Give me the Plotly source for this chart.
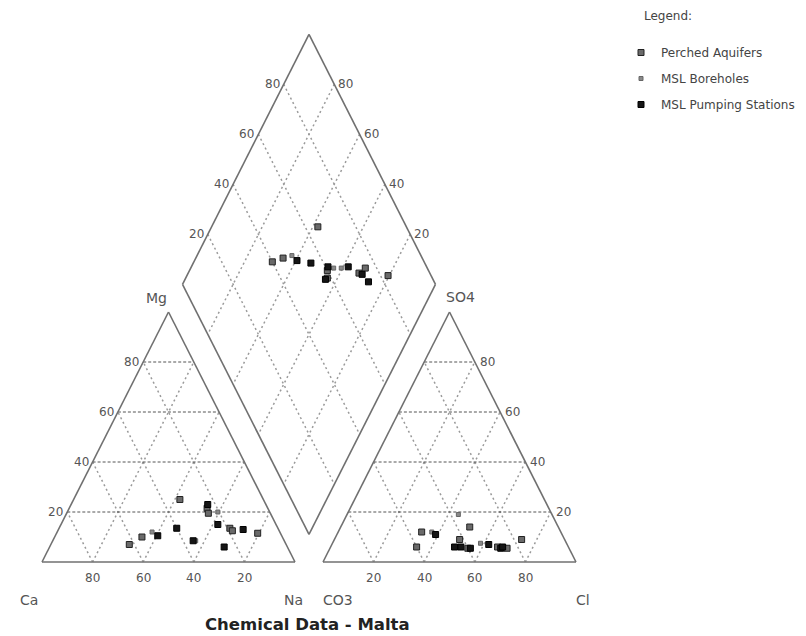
import numpy as np
import plotly.graph_objects as go

# ---------------- data (meq %) ----------------
# Perched Aquifers
pa_ca  = [62, 55.5, 33, 24, 24.5, 19, 18.5, 9]
pa_mg  = [7, 10, 25, 21.5, 19.5, 13.5, 12.5, 11.5]
pa_na  = [31, 34.5, 42, 54.5, 56, 67.5, 69, 79.5]
pa_co3 = [60, 55, 35, 40, 41.5, 28, 24.5, 17]
pa_so4 = [6, 12, 14, 5.5, 9, 6, 5.5, 9]
pa_cl  = [34, 33, 51, 54.5, 49.5, 66, 70, 74]
# MSL Boreholes
bh_ca  = [50.5, 35, 20.5]
bh_mg  = [12, 8.5, 20]
bh_na  = [37.5, 56.5, 59.5]
bh_co3 = [51, 37, 34]
bh_so4 = [12, 19, 7.5]
bh_cl  = [37, 44, 58.5]
# MSL Pumping Stations
ps_ca  = [49, 40, 23, 36, 23, 25, 14]
ps_mg  = [10.5, 13.5, 23, 8.5, 15, 6, 13]
ps_na  = [40.5, 46.5, 54, 55.5, 62, 69, 73]
ps_co3 = [50, 45, 39, 42.5, 31, 27, 26]
ps_so4 = [11, 6, 5.5, 6, 7, 5.5, 6]
ps_cl  = [39, 49, 55.5, 51.5, 62, 67.5, 68]

series = [
    ("Perched Aquifers", pa_mg, pa_na, pa_co3, pa_so4, pa_cl, "#6a6a6a", "#222", 6),
    ("MSL Boreholes", bh_mg, bh_na, bh_co3, bh_so4, bh_cl, "#8a8a8a", "#666", 4),
    ("MSL Pumping Stations", ps_mg, ps_na, ps_co3, ps_so4, ps_cl, "#151515", "#000", 6),
]
grid_vals = [20, 40, 60, 80]

FONT = "DejaVu Sans, Verdana, sans-serif"

# ---------------- geometry ----------------
S = np.sqrt(3) / 2
G = 28 / 253  # gap between triangles


def cat_xy(mg, na):
    return na / 100 + mg / 200, mg / 100 * S


def an_xy(so4, cl):
    return 1 + G + cl / 100 + so4 / 200, so4 / 100 * S


def dia_xy(na, co3):
    n, c = na / 100, co3 / 100
    return (n + 2 + G - c) / 2, S * (2 + G - c - n)


def seg_trace(segs, color, width, dash):
    xs, ys = [], []
    for (a, b) in segs:
        xs += [a[0], b[0], None]
        ys += [a[1], b[1], None]
    return go.Scatter(x=xs, y=ys, mode="lines", hoverinfo="skip", showlegend=False,
                      line=dict(color=color, width=width, dash=dash))


horiz, incl, dgrid = [], [], []
for v in grid_vals:
    horiz.append((cat_xy(v, 0), cat_xy(v, 100 - v)))
    incl.append((cat_xy(0, v), cat_xy(100 - v, v)))
    incl.append((cat_xy(0, 100 - v), cat_xy(100 - v, 0)))
    horiz.append((an_xy(v, 0), an_xy(v, 100 - v)))
    incl.append((an_xy(0, v), an_xy(100 - v, v)))
    incl.append((an_xy(0, 100 - v), an_xy(100 - v, 0)))
    dgrid.append((dia_xy(v, 0), dia_xy(v, 100)))
    dgrid.append((dia_xy(0, v), dia_xy(100, v)))

outline = [
    (cat_xy(0, 0), cat_xy(0, 100)), (cat_xy(0, 100), cat_xy(100, 0)), (cat_xy(100, 0), cat_xy(0, 0)),
    (an_xy(0, 0), an_xy(0, 100)), (an_xy(0, 100), an_xy(100, 0)), (an_xy(100, 0), an_xy(0, 0)),
    (dia_xy(0, 0), dia_xy(100, 0)), (dia_xy(100, 0), dia_xy(100, 100)),
    (dia_xy(100, 100), dia_xy(0, 100)), (dia_xy(0, 100), dia_xy(0, 0)),
]

fig = go.Figure()
fig.add_trace(seg_trace(incl, "#9a9a9a", 1.5, "2px,3px"))
fig.add_trace(seg_trace(dgrid, "#9a9a9a", 1.5, "2px,3px"))
fig.add_trace(seg_trace(horiz, "#555555", 1, "3px,2px"))
fig.add_trace(seg_trace(outline, "#707070", 1.6, "solid"))

for name, mg, na, co3, so4, cl, fc, lc, sz in series:
    xs, ys = [], []
    for i in range(len(mg)):
        for p in (cat_xy(mg[i], na[i]), an_xy(so4[i], cl[i]), dia_xy(na[i], co3[i])):
            xs.append(p[0]); ys.append(p[1])
    fig.add_trace(go.Scatter(x=xs, y=ys, mode="markers", name=name, legendgroup=name,
                             marker=dict(symbol="square", size=sz, color=fc,
                                         line=dict(color=lc, width=1))))

ann = []
tfont = dict(family=FONT, size=12, color="#555")
for v in grid_vals:
    x, y = cat_xy(v, 0)
    ann.append(dict(x=x, y=y, text=str(v), xanchor="right", xshift=-2, font=tfont))
    x, y = cat_xy(0, v)
    ann.append(dict(x=x, y=y, text=str(100 - v), yanchor="top", yshift=-7, font=tfont))
    x, y = an_xy(v, 100 - v)
    ann.append(dict(x=x, y=y, text=str(v), xanchor="left", xshift=3, font=tfont))
    x, y = an_xy(0, v)
    ann.append(dict(x=x, y=y, text=str(v), yanchor="top", yshift=-7, font=tfont))
    x, y = dia_xy(0, 100 - v)
    ann.append(dict(x=x, y=y, text=str(v), xanchor="right", xshift=-2, font=tfont))
    x, y = dia_xy(100 - v, 0)
    ann.append(dict(x=x, y=y, text=str(v), xanchor="left", xshift=2, font=tfont))

lfont = dict(family=FONT, size=14, color="#555")
corner = [
    ("Mg", cat_xy(100, 0), -12, 14),
    ("Ca", cat_xy(0, 0), -13, -38),
    ("Na", cat_xy(0, 100), -2, -38),
    ("CO3", an_xy(0, 0), 15, -38),
    ("Cl", an_xy(0, 100), 7, -38),
    ("SO4", an_xy(100, 0), 11, 15),
]
for t, (x, y), dx, dy in corner:
    ann.append(dict(x=x, y=y, text=t, xshift=dx, yshift=dy, font=lfont))

ann.append(dict(xref="paper", yref="paper", x=307 / 806, y=1 - 624 / 636, yanchor="middle",
                text="<b>Chemical Data - Malta</b>",
                font=dict(family=FONT, size=16.5, color="#222")))
ann.append(dict(xref="paper", yref="paper", x=642 / 806, y=1 - 16 / 636, xanchor="left",
                yanchor="middle", text="Legend:", font=dict(family=FONT, size=12, color="#444")))
for a in ann:
    a.setdefault("showarrow", False)

fig.update_layout(
    width=806, height=636, margin=dict(l=0, r=0, t=0, b=0),
    paper_bgcolor="white", plot_bgcolor="white",
    xaxis=dict(range=[-42 / 253, 764 / 253], visible=False, fixedrange=True),
    yaxis=dict(range=[-74 / 288.68, 562 / 288.68], visible=False, fixedrange=True),
    annotations=ann,
    legend=dict(x=621 / 806, y=1 - 38 / 636, xanchor="left", yanchor="top",
                font=dict(family=FONT, size=12, color="#444"),
                tracegroupgap=7, itemsizing="trace", bgcolor="rgba(0,0,0,0)"),
    showlegend=True,
)
fig.write_html("out.html")
